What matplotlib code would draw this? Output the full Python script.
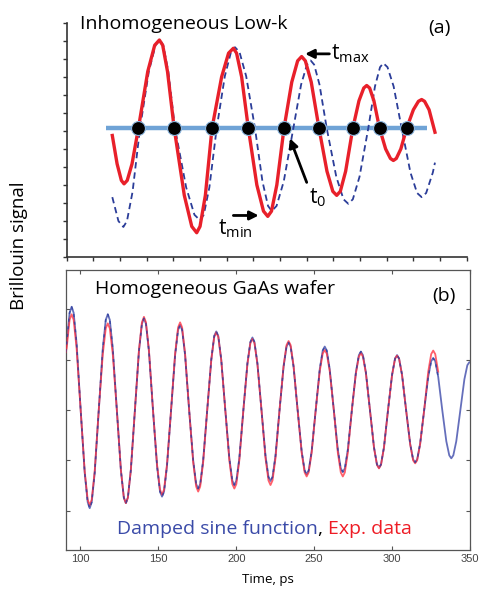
import matplotlib
matplotlib.use("Agg")
import matplotlib.pyplot as plt
from matplotlib.offsetbox import TextArea, HPacker, AnnotationBbox

plt.rcParams['font.family'] = ['Open Sans', 'DejaVu Sans']
plt.rcParams['mathtext.fontset'] = 'custom'
plt.rcParams['mathtext.rm'] = 'Open Sans'

# ---- panel (a): inhomogeneous low-k, arbitrary units
red_x = [1.71, 1.89, 2.05, 2.15, 2.27, 2.45, 2.69, 3.04, 3.30, 3.475, 3.60, 3.78, 4.03,
         4.41, 4.69, 4.875, 5.00, 5.20, 5.45, 5.81, 6.07, 6.25, 6.37, 6.56, 6.81,
         7.13, 7.38, 7.54, 7.68, 7.88, 8.15, 8.44, 8.66, 8.81, 8.95, 9.17, 9.46,
         9.76, 9.98, 10.125, 10.26, 10.46, 10.73, 10.96, 11.14, 11.25, 11.36, 11.52, 11.73,
         11.96, 12.14, 12.25, 12.36, 12.53, 12.75, 13.00, 13.19, 13.31, 13.42, 13.59, 13.81]
red_y = [6.76, 5.18, 4.26, 4.07, 4.26, 5.18, 7.17, 10.32, 11.78, 12.07, 11.78, 10.32, 7.17,
         3.43, 1.70, 1.35, 1.70, 3.43, 7.17, 10.02, 11.34, 11.61, 11.34, 10.02, 7.17,
         4.01, 2.55, 2.26, 2.55, 4.01, 7.17, 9.73, 10.91, 11.15, 10.91, 9.73, 7.17,
         4.77, 3.65, 3.43, 3.65, 4.77, 7.17, 8.69, 9.40, 9.54, 9.40, 8.69, 7.17,
         6.01, 5.48, 5.37, 5.48, 6.01, 7.17, 8.19, 8.66, 8.76, 8.66, 8.19, 6.94]

blue_x = [1.71, 1.94, 2.125, 2.26, 2.47, 2.75, 3.08, 3.33, 3.50, 3.62, 3.81, 4.06,
          4.48, 4.79, 5.00, 5.14, 5.35, 5.625, 5.93, 6.16, 6.31, 6.48, 6.73, 7.06,
          7.34, 7.55, 7.69, 7.87, 8.14, 8.50, 8.79, 9.01, 9.15, 9.28, 9.48, 9.75,
          10.11, 10.38, 10.56, 10.73, 10.98, 11.31, 11.56, 11.75, 11.875, 12.03, 12.26, 12.56,
          12.89, 13.14, 13.31, 13.48, 13.73, 13.81]
blue_y = [3.33, 2.00, 1.67, 2.00, 3.63, 7.17, 10.32, 11.78, 12.07, 11.78, 10.32, 7.17,
          3.87, 2.35, 2.04, 2.35, 3.87, 7.17, 10.06, 11.40, 11.67, 11.40, 10.06, 7.17,
          4.21, 2.84, 2.56, 2.84, 4.21, 7.17, 9.59, 10.70, 10.93, 10.70, 9.59, 7.17,
          4.46, 3.21, 2.96, 3.21, 4.46, 7.17, 9.49, 10.56, 10.78, 10.56, 9.49, 7.17,
          4.70, 3.56, 3.33, 3.56, 4.70, 5.25]

base_level = 7.17
base_x = [1.475, 13.5]
crossings = [2.69, 4.03, 5.45, 6.81, 8.15, 9.46, 10.73, 11.73, 12.75]

# ---- panel (b): homogeneous GaAs wafer
t_fit = [90.6, 91.2, 93.1,
         94.4, 95.7, 97.6, 100.2, 102.8, 104.7,
         106.0, 107.3, 109.2, 111.8, 114.4, 116.3,
         117.6, 118.9, 120.8, 123.4, 126.0, 127.9,
         129.2, 130.5, 132.4, 135.0, 137.6, 139.5,
         140.8, 142.1, 144.0, 146.6, 149.2, 151.1,
         152.4, 153.7, 155.6, 158.2, 160.8, 162.7,
         164.0, 165.3, 167.2, 169.8, 172.4, 174.3,
         175.6, 176.9, 178.8, 181.4, 184.0, 185.9,
         187.2, 188.5, 190.4, 193.0, 195.6, 197.5,
         198.8, 200.1, 202.0, 204.6, 207.2, 209.1,
         210.4, 211.7, 213.6, 216.2, 218.8, 220.7,
         222.0, 223.3, 225.2, 227.8, 230.4, 232.3,
         233.6, 234.9, 236.8, 239.4, 242.0, 243.9,
         245.2, 246.5, 248.4, 251.0, 253.6, 255.5,
         256.8, 258.1, 260.0, 262.6, 265.2, 267.1,
         268.4, 269.7, 271.6, 274.2, 276.8, 278.7,
         280.0, 281.3, 283.2, 285.8, 288.4, 290.3,
         291.6, 292.9, 294.8, 297.4, 300.0, 301.9,
         303.2, 304.5, 306.4, 309.0, 311.6, 313.5,
         314.8, 316.1, 318.0, 320.6, 323.2, 325.1,
         326.4, 327.7, 329.6, 332.2, 334.8, 336.7,
         338.0, 339.3, 341.2, 343.8, 346.4, 348.3,
         349.6, 350.0]
fit_y = [1.15, 1.32, 1.93,
         2.05, 1.93, 1.32, 0.0, -1.25, -1.83,
         -1.95, -1.83, -1.25, 0.0, 1.22, 1.79,
         1.90, 1.79, 1.22, 0.0, -1.19, -1.74,
         -1.85, -1.74, -1.19, 0.0, 1.17, 1.71,
         1.82, 1.71, 1.17, 0.0, -1.11, -1.62,
         -1.72, -1.62, -1.11, 0.0, 1.09, 1.59,
         1.69, 1.59, 1.09, 0.0, -1.00, -1.47,
         -1.56, -1.47, -1.00, 0.0, 1.00, 1.47,
         1.56, 1.47, 1.00, 0.0, -0.96, -1.40,
         -1.49, -1.40, -0.96, 0.0, 0.93, 1.35,
         1.44, 1.35, 0.93, 0.0, -0.91, -1.33,
         -1.41, -1.33, -0.91, 0.0, 0.86, 1.26,
         1.34, 1.26, 0.86, 0.0, -0.82, -1.20,
         -1.28, -1.20, -0.82, 0.0, 0.81, 1.18,
         1.26, 1.18, 0.81, 0.0, -0.79, -1.16,
         -1.23, -1.16, -0.79, 0.0, 0.75, 1.09,
         1.16, 1.09, 0.75, 0.0, -0.74, -1.08,
         -1.15, -1.08, -0.74, 0.0, 0.70, 1.02,
         1.09, 1.02, 0.70, 0.0, -0.67, -0.98,
         -1.04, -0.98, -0.67, 0.0, 0.66, 0.97,
         1.03, 0.97, 0.66, 0.0, -0.62, -0.90,
         -0.96, -0.90, -0.62, 0.0, 0.61, 0.89,
         0.95, 0.95]
exp_y = [1.15, 1.22, 1.79,
         1.90, 1.79, 1.22, 0.0, -1.22, -1.78,
         -1.89, -1.78, -1.22, 0.0, 1.11, 1.62,
         1.72, 1.62, 1.11, 0.0, -1.19, -1.74,
         -1.85, -1.74, -1.19, 0.0, 1.19, 1.74,
         1.85, 1.74, 1.19, 0.0, -1.08, -1.58,
         -1.68, -1.58, -1.08, 0.0, 1.12, 1.64,
         1.74, 1.64, 1.12, 0.0, -1.04, -1.52,
         -1.62, -1.52, -1.04, 0.0, 0.99, 1.45,
         1.54, 1.45, 0.99, 0.0, -1.00, -1.47,
         -1.56, -1.47, -1.00, 0.0, 0.91, 1.33,
         1.41, 1.33, 0.91, 0.0, -0.96, -1.40,
         -1.49, -1.40, -0.96, 0.0, 0.88, 1.29,
         1.37, 1.29, 0.88, 0.0, -0.85, -1.24,
         -1.32, -1.24, -0.85, 0.0, 0.77, 1.12,
         1.19, 1.12, 0.77, 0.0, -0.85, -1.24,
         -1.32, -1.24, -0.85, 0.0, 0.73, 1.06,
         1.13, 1.06, 0.73, 0.0, -0.75, -1.09,
         -1.16, -1.09, -0.75, 0.0, 0.69, 1.02,
         1.08, 1.02, 0.69, 0.0, -0.68, -1.00,
         -1.06, -1.00, -0.68, 0.0, 0.76, 1.11,
         1.18, 1.11, 0.76]
t_exp = t_fit[:len(exp_y)]
time_ticks = [100, 150, 200, 250, 300, 350]

RED = '#e8202a'
DBLUE = '#2b3d99'
FIT_BLUE = '#4a56b0'
EXP_RED = '#ff2b3a'

W, H = 479, 589
fig = plt.figure(figsize=(W / 100, H / 100), dpi=100)

def px(x, y):
    # pixel position -> figure fraction
    return x / W, 1 - y / H

def fit_width(txt, target):
    # scale the font so the text is as wide as in the picture
    r = fig.canvas.get_renderer()
    w = txt.get_window_extent(r).width
    txt.set_fontsize(txt.get_fontsize() * target / w)

# ---------------- top panel
ax1 = fig.add_axes([66.7 / W, 1 - 257 / H, 400 / W, 233.7 / H])
ax1.set_xlim(0, 15)
ax1.set_ylim(0, 13)
ax1.set_xticks(range(16))
ax1.set_yticks(range(14))
ax1.tick_params(direction='out', length=3, width=1, colors='#333333',
                labelbottom=False, labelleft=False)
for s in ['top', 'right']:
    ax1.spines[s].set_visible(False)
for s in ['left', 'bottom']:
    ax1.spines[s].set_color('#333333')
    ax1.spines[s].set_linewidth(1.2)

ax1.plot(base_x, [base_level, base_level], color='#6fa3d6', lw=3.2, solid_capstyle='butt', zorder=2)
ax1.plot(blue_x, blue_y, color=DBLUE, lw=1.3, dashes=(3.5, 2.2), zorder=3)
ax1.plot(red_x, red_y, color=RED, lw=2.4, zorder=4)
ax1.plot(crossings, [base_level] * len(crossings), 'o', ms=10, color='black',
         mec='#8fb8e0', mew=0.8, zorder=5)

arrow = dict(arrowstyle='-|>', color='black', lw=2.0, mutation_scale=13, shrinkA=0, shrinkB=0)
ax1.annotate('', xy=(8.94, 11.3), xytext=(9.85, 11.3), arrowprops=arrow)
ax1.text(9.9, 11.3, r'$\mathregular{t_{max}}$', fontsize=15, va='center', ha='left')
ax1.annotate('', xy=(8.37, 6.6), xytext=(9.0, 4.15), arrowprops=arrow)
ax1.text(9.1, 3.3, r'$\mathregular{t_{0}}$', fontsize=15, va='center', ha='left')
ax1.annotate('', xy=(7.2, 2.31), xytext=(6.25, 2.31), arrowprops=arrow)
ax1.text(5.68, 1.55, r'$\mathregular{t_{min}}$', fontsize=15, va='center', ha='left')

title_a = fig.text(*px(80, 29), 'Inhomogeneous Low-k', fontsize=14, va='baseline', ha='left')
fit_width(title_a, 208)
fig.text(*px(428, 33), '(a)', fontsize=14, va='baseline', ha='left')

# ---------------- bottom panel
ax2 = fig.add_axes([65.7 / W, 1 - 550 / H, 404.3 / W, 280 / H])
ax2.set_xlim(90.6, 350)
ax2.set_ylim(-2.78, 2.78)
ax2.set_xticks(time_ticks)
ax2.set_yticks([-2, -1, 0, 1, 2])
ax2.tick_params(direction='in', length=3, width=0.8, colors='#555555',
                top=True, right=True, labelleft=False, labelsize=8, pad=3)
for lab in ax2.get_xticklabels():
    lab.set_family(['Liberation Sans', 'DejaVu Sans'])
    lab.set_color('#444444')
for s in ax2.spines.values():
    s.set_color('#555555')
    s.set_linewidth(0.9)

ax2.plot(t_fit, fit_y, color=FIT_BLUE, lw=1.3, alpha=0.85, zorder=2)
ax2.plot(t_exp, exp_y, color=EXP_RED, lw=1.3, alpha=0.75, zorder=3)
ax2.plot(t_exp, fit_y[:len(exp_y)], color='#2f3f9e', lw=1.1, dashes=(2, 3), alpha=0.8, zorder=4)

ax2.set_xlabel('Time, ps', fontsize=9.5, labelpad=6)

title_b = fig.text(*px(95, 294.5), 'Homogeneous GaAs wafer', fontsize=14, va='baseline', ha='left')
fit_width(title_b, 242)
fig.text(*px(432, 301), '(b)', fontsize=14, va='baseline', ha='left')

parts = [TextArea('Damped sine function', textprops=dict(color='#3a4aa8', fontsize=14)),
         TextArea(', ', textprops=dict(color='black', fontsize=14)),
         TextArea('Exp. data', textprops=dict(color='#ee1c25', fontsize=14))]
legend_box = HPacker(children=parts, align='baseline', pad=0, sep=0)
ab = AnnotationBbox(legend_box, px(117, 538), xycoords='figure fraction',
                    box_alignment=(0, 0), frameon=False, pad=0)
fig.add_artist(ab)

fig.text(*px(19, 246), 'Brillouin signal', fontsize=13.5, rotation=90, va='center', ha='center')

fig.savefig('out.png', dpi=100)
